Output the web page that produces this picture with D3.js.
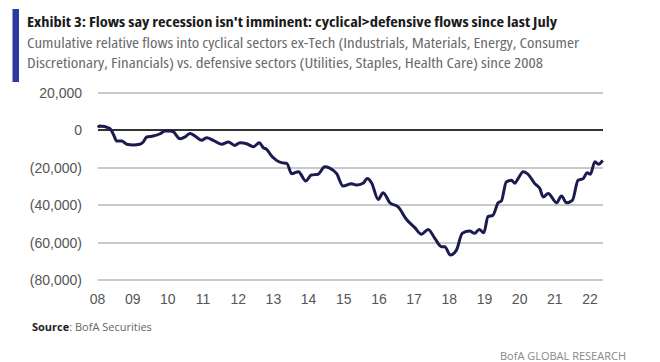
<!DOCTYPE html>
<html>
  <head>
    <meta http-equiv="Content-Type" content="text/html;charset=utf-8"/>
    <style type="text/css">

body {
  margin: 0;
  background: #fff;
}

svg {
  font-family: "Open Sans", "Liberation Sans", sans-serif;
}

.head {
  font-stretch: condensed;
}

.grid line {
  stroke: #c9c9c9;
  stroke-width: 1.5px;
  shape-rendering: crispEdges;
}

.grid line.zero {
  stroke: #333;
}

.axis text {
  font-family: "Liberation Sans", Arial, sans-serif;
  font-size: 14px;
  fill: #555;
}

.flow {
  fill: none;
  stroke: #1b1b4f;
  stroke-width: 3px;
  stroke-linejoin: round;
}

    </style>
  </head>
  <body>
    <svg></svg>

    <script type="text/javascript" src="https://cdn.jsdelivr.net/npm/d3@7"></script>

    <script type="text/javascript">

// cumulative relative flows (decimal year, value)
var dates = [2008.02, 2008.05, 2008.35, 2008.45, 2008.55, 2008.69, 2008.83, 2009.02, 2009.2, 2009.3,
  2009.4, 2009.58, 2009.78, 2009.92, 2010.06, 2010.15, 2010.34, 2010.49, 2010.63, 2010.77,
  2010.96, 2011.1, 2011.29, 2011.53, 2011.72, 2011.9, 2012.05, 2012.24, 2012.43, 2012.6,
  2012.71, 2012.81, 2012.95, 2013.09, 2013.23, 2013.38, 2013.52, 2013.71, 2013.92, 2014.08,
  2014.27, 2014.46, 2014.6, 2014.8, 2014.98, 2015.22, 2015.36, 2015.55, 2015.67, 2015.79,
  2015.98, 2016.12, 2016.31, 2016.55, 2016.78, 2017.02, 2017.21, 2017.4, 2017.59, 2017.78,
  2017.87, 2018.03, 2018.2, 2018.37, 2018.58, 2018.72, 2018.85, 2018.98, 2019.1, 2019.24,
  2019.39, 2019.48, 2019.62, 2019.77, 2019.86, 2019.96, 2020.1, 2020.24, 2020.43, 2020.57,
  2020.67, 2020.81, 2021.05, 2021.19, 2021.33, 2021.5, 2021.66, 2021.8, 2021.92, 2022.01,
  2022.14, 2022.24, 2022.36];

var flows = [1250, 2100, 900, -2300, -5900, -5900, -7600, -8000, -7600, -6400,
  -3700, -3200, -2000, -500, -500, -900, -4600, -3700, -1800, -3200,
  -5500, -4100, -5500, -7600, -6400, -8200, -6800, -7300, -8900, -6800,
  -9400, -10300, -13900, -16200, -17400, -17800, -23300, -22200, -27200, -24000,
  -23600, -19600, -20300, -23300, -29900, -28600, -29300, -28400, -25800, -28100,
  -37000, -33400, -38800, -41100, -47600, -52100, -55600, -53000, -57800, -62200,
  -62200, -66700, -64200, -55100, -53900, -55100, -53000, -54800, -46200, -45500,
  -38800, -37900, -27700, -26800, -28400, -25800, -22200, -23600, -28600, -31100,
  -35700, -33800, -38800, -35200, -38800, -37500, -26800, -26000, -22800, -23600,
  -16900, -18300, -16200];

var yTicks = [20000, 0, -20000, -40000, -60000, -80000];
var years = [2008, 2009, 2010, 2011, 2012, 2013, 2014, 2015, 2016, 2017, 2018, 2019, 2020, 2021, 2022];

var title = "Exhibit 3: Flows say recession isn't imminent: cyclical>defensive flows since last July";
var subtitle = ["Cumulative relative flows into cyclical sectors ex-Tech (Industrials, Materials, Energy, Consumer",
  "Discretionary, Financials) vs. defensive sectors (Utilities, Staples, Health Care) since 2008"];

var W = 660, H = 362;

var svg = d3.select("svg")
    .attr("width", W)
    .attr("height", H);

svg.append("rect").attr("width", W).attr("height", H).attr("fill", "#fff");

// header
svg.append("rect")
    .attr("x", 12.5).attr("y", 9)
    .attr("width", 6.5).attr("height", 73)
    .attr("fill", "#2b3a9e");

svg.append("text")
    .attr("class", "head")
    .attr("x", 27).attr("y", 27)
    .attr("font-size", 14.5).attr("font-weight", 700)
    .attr("fill", "#1a1a1a")
    .attr("textLength", 530).attr("lengthAdjust", "spacingAndGlyphs")
    .text(title);

svg.selectAll(".sub")
    .data(subtitle)
  .enter().append("text")
    .attr("class", "head sub")
    .attr("x", 27)
    .attr("y", (d, i) => 48 + i * 20)
    .attr("font-size", 13.5)
    .attr("fill", "#6a6a6a")
    .attr("textLength", (d, i) => i ? 516 : 552)
    .attr("lengthAdjust", "spacingAndGlyphs")
    .text(d => d);

var x = d3.scaleLinear()
    .domain([2008, 2022])
    .range([97.5, 590]);

var y = d3.scaleLinear()
    .domain([-80000, 20000])
    .range([280, 92.5]);

var xEnd = d3.max(dates);

// gridlines
svg.append("g")
    .attr("class", "grid")
  .selectAll("line")
    .data(yTicks)
  .enter().append("line")
    .attr("class", d => d === 0 ? "zero" : null)
    .attr("x1", x(2008))
    .attr("x2", x(xEnd))
    .attr("y1", d => Math.round(y(d)))
    .attr("y2", d => Math.round(y(d)));

var fmt = d3.format(",");

svg.append("g")
    .attr("class", "axis")
  .selectAll("text")
    .data(yTicks)
  .enter().append("text")
    .attr("x", 82)
    .attr("y", d => y(d) + 5)
    .attr("text-anchor", "end")
    .text(d => d < 0 ? "(" + fmt(-d) + ")" : fmt(d));

svg.append("g")
    .attr("class", "axis")
  .selectAll("text")
    .data(years)
  .enter().append("text")
    .attr("x", d => x(d))
    .attr("y", 303.5)
    .attr("text-anchor", "middle")
    .text(d => String(d).slice(2));

// the flow line
var line = d3.line()
    .x(d => x(d[0]))
    .y(d => y(d[1]))
    .curve(d3.curveMonotoneX);

svg.append("path")
    .attr("class", "flow")
    .attr("d", line(d3.zip(dates, flows)));

// footer
var src = svg.append("text")
    .attr("x", 32).attr("y", 331)
    .attr("font-size", 11)
    .attr("fill", "#666");
src.append("tspan").attr("font-weight", 700).attr("fill", "#222").text("Source");
src.append("tspan").text(": BofA Securities");

svg.append("text")
    .attr("x", 626).attr("y", 360)
    .attr("text-anchor", "end")
    .attr("font-size", 11)
    .attr("fill", "#888")
    .text("BofA GLOBAL RESEARCH");

    </script>
  </body>
</html>
